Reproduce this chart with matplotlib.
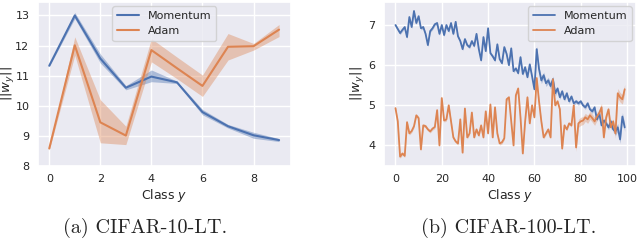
import matplotlib
matplotlib.use("Agg")
import matplotlib.pyplot as plt
import numpy as np
import seaborn as sns

# ---- data: CIFAR-10-LT ----
classes10 = list(range(10))
mom10 = [11.33, 13.0, 11.57, 10.6, 10.97, 10.78, 9.79, 9.32, 9.02, 8.86]
mom10_lo = [11.30, 12.90, 11.42, 10.53, 10.80, 10.74, 9.70, 9.26, 8.92, 8.81]
mom10_hi = [11.36, 13.10, 11.72, 10.67, 11.19, 10.82, 9.88, 9.38, 9.12, 8.91]
adam10 = [8.58, 12.01, 9.45, 9.01, 11.85, 11.25, 10.66, 11.96, 11.98, 12.53]
adam10_lo = [8.53, 11.68, 8.77, 8.71, 11.46, 10.90, 10.31, 11.52, 11.85, 12.30]
adam10_hi = [8.63, 12.29, 10.20, 9.32, 12.23, 11.62, 11.02, 12.40, 12.07, 12.70]

# ---- data: CIFAR-100-LT ----
classes100 = list(range(100))
mom100 = [7.00, 6.90, 6.80, 6.88, 6.95, 6.70, 7.20, 6.95, 7.35, 7.05,
          7.22, 6.92, 6.95, 6.78, 6.50, 6.85, 6.92, 7.02, 7.05, 6.78,
          7.00, 6.75, 7.00, 6.85, 7.05, 6.78, 7.08, 6.72, 6.60, 6.40,
          6.65, 6.50, 6.45, 6.60, 6.48, 6.78, 6.40, 6.12, 6.70, 6.35,
          6.92, 6.30, 6.22, 6.12, 6.52, 6.15, 6.05, 6.45, 6.28, 6.00,
          6.42, 5.85, 5.92, 5.80, 6.20, 5.78, 5.95, 5.70, 6.02, 5.72,
          5.40, 6.40, 5.90, 5.62, 5.75, 5.55, 5.62, 5.48, 5.65, 5.30,
          5.42, 5.20, 5.35, 5.15, 5.30, 5.10, 5.22, 5.05, 5.10, 5.05,
          5.10, 5.00, 4.95, 5.05, 4.90, 4.85, 4.95, 4.65, 4.80, 4.50,
          4.62, 4.55, 4.45, 4.60, 4.40, 4.35, 4.45, 4.15, 4.72, 4.45]
mom100_err = [0.04] * 60 + [0.08] * 10 + [0.05] * 20 + [0.06] * 5 + [0.10] * 5
adam100 = [4.93, 4.60, 3.72, 3.80, 3.74, 4.58, 4.30, 4.36, 4.48, 4.75,
           4.68, 3.90, 4.50, 4.48, 4.40, 4.35, 4.42, 4.46, 4.88, 4.00,
           5.18, 4.62, 4.65, 5.00, 4.60, 4.20, 4.10, 4.05, 4.65, 3.82,
           4.92, 4.20, 4.30, 4.82, 4.20, 4.40, 4.25, 4.50, 4.20, 4.85,
           4.30, 5.02, 4.20, 4.95, 4.30, 4.05, 4.08, 4.18, 5.15, 5.20,
           4.60, 4.00, 5.25, 5.42, 4.70, 3.80, 4.60, 5.20, 4.55, 5.00,
           4.70, 5.68, 5.10, 4.60, 4.20, 4.30, 4.40, 4.20, 5.65, 5.00,
           5.10, 4.90, 3.92, 4.50, 4.40, 4.55, 4.50, 5.00, 3.95, 4.55,
           4.60, 4.62, 4.70, 4.65, 4.75, 4.68, 4.60, 4.72, 4.80, 4.95,
           4.20, 4.70, 4.90, 4.45, 4.60, 4.30, 5.30, 5.20, 5.15, 5.40]
adam100_err = [0.04] * 78 + [0.10] * 12 + [0.06] * 5 + [0.12] * 5

labels = ["Momentum", "Adam"]
captions = ["(a) CIFAR-10-LT.", "(b) CIFAR-100-LT."]

sns.set_theme(style="darkgrid")
plt.rcParams['font.family'] = ['DejaVu Sans']
blue, orange = sns.color_palette("deep")[0], sns.color_palette("deep")[1]

fig = plt.figure(figsize=(6.4, 2.43), dpi=100)
ax1 = fig.add_axes([0.059, 0.317, 0.395, 0.675])
ax2 = fig.add_axes([0.600, 0.318, 0.394, 0.674])

fs_tick = 8
fs_lab = 9
fs_leg = 8
# left
ax1.plot(classes10, mom10, color=blue, lw=1.5, label=labels[0])
ax1.fill_between(classes10, mom10_lo, mom10_hi, color=blue, alpha=0.4, lw=0)
ax1.plot(classes10, adam10, color=orange, lw=1.5, label=labels[1])
ax1.fill_between(classes10, adam10_lo, adam10_hi, color=orange, alpha=0.4, lw=0)
ax1.set_ylim(8, 13.45)
ax1.set_xticks([0, 2, 4, 6, 8])
ax1.set_yticks([8, 9, 10, 11, 12, 13])
ax1.legend(loc="upper center", fontsize=fs_leg, borderaxespad=0.4)

# right
m = np.array(mom100); me = np.array(mom100_err)
a = np.array(adam100); ae = np.array(adam100_err)
ax2.plot(classes100, m, color=blue, lw=1.3, label=labels[0])
ax2.fill_between(classes100, m - me, m + me, color=blue, alpha=0.35, lw=0)
ax2.plot(classes100, a, color=orange, lw=1.3, label=labels[1])
ax2.fill_between(classes100, a - ae, a + ae, color=orange, alpha=0.35, lw=0)
ax2.set_xticks([0, 20, 40, 60, 80, 100])
ax2.set_yticks([4, 5, 6, 7])
ax2.legend(loc="upper right", fontsize=fs_leg, borderaxespad=0.4)

for ax in (ax1, ax2):
    ax.tick_params(labelsize=fs_tick, length=0, pad=6)
    ax.set_xlabel("Class $y$", fontsize=fs_lab, labelpad=2)
    ax.set_ylabel("$||w_y||$", fontsize=9.5)
ax1.yaxis.set_label_coords(-0.084, 0.5)
ax2.yaxis.set_label_coords(-0.066, 0.5)

fig.text(145 / 640, 0.06, captions[0], fontsize=14.5, family="cmr10", ha="center", va="center")
fig.text(509 / 640, 0.06, captions[1], fontsize=14.5, family="cmr10", ha="center", va="center")

fig.savefig("out.png", dpi=100)
